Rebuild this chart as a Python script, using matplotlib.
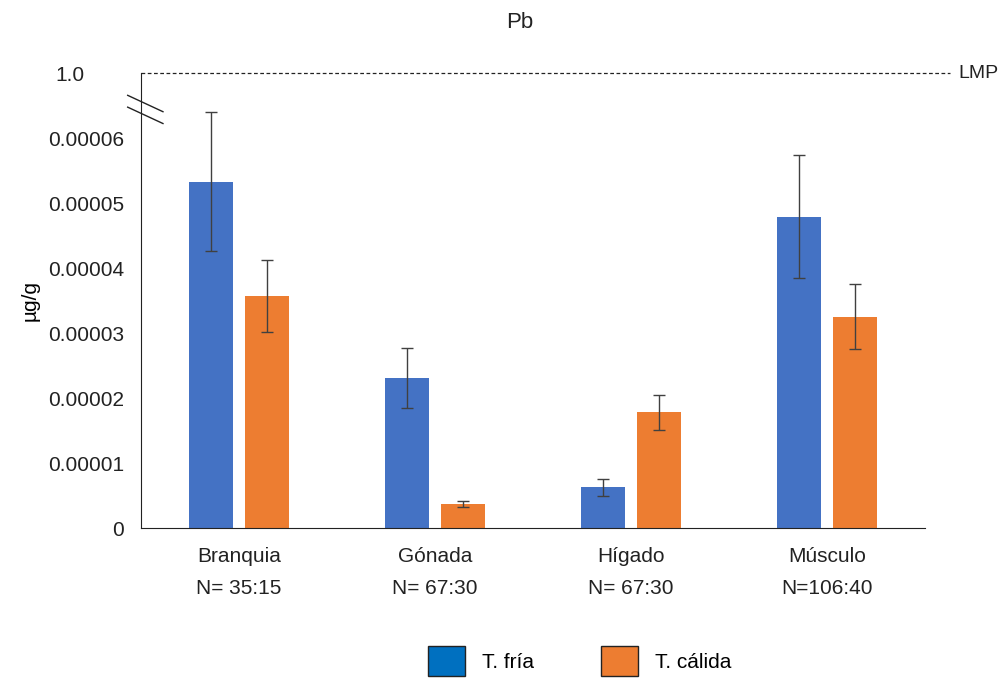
import numpy as np
import matplotlib.pyplot as plt
from matplotlib.lines import Line2D
from matplotlib.patches import Patch

plt.rcParams['font.family'] = ['Liberation Sans', 'DejaVu Sans']

# Concentraciones de Pb por tejido (µg/g)
tejidos = ['Branquia\nN= 35:15', 'Gónada\nN= 67:30', 'Hígado\nN= 67:30', 'Músculo\nN=106:40']
fria = [5.33e-5, 2.31e-5, 0.63e-5, 4.79e-5]
fria_err = [1.07e-5, 0.46e-5, 0.13e-5, 0.95e-5]
calida = [3.57e-5, 0.37e-5, 1.78e-5, 3.25e-5]
calida_err = [0.55e-5, 0.05e-5, 0.27e-5, 0.50e-5]

# Eje con corte: la parte superior representa el LMP (1.0)
yticks = [0, 1e-5, 2e-5, 3e-5, 4e-5, 5e-5, 6e-5, 7e-5]
ytick_labels = ['0', '0.00001', '0.00002', '0.00003', '0.00004', '0.00005', '0.00006', '1.0']
lmp_pos = 7e-5

azul = '#4472C4'
naranja = '#ED7D31'

fig = plt.figure(figsize=(10.08, 6.8), dpi=100)
ax = fig.add_axes([0.1399, 0.2235, 0.7778, 0.6691])

x = np.arange(len(tejidos))
w = 0.224
d = 0.143
err_kw = dict(ecolor='#404040', elinewidth=1, capsize=4, capthick=1)
ax.bar(x - d, fria, w, yerr=fria_err, color=azul, error_kw=err_kw)
ax.bar(x + d, calida, w, yerr=calida_err, color=naranja, error_kw=err_kw)

ax.set_xlim(-0.5, len(tejidos) - 0.5)
ax.set_ylim(0, lmp_pos)
ax.set_yticks(yticks)
ax.set_yticklabels(ytick_labels)
ax.set_xticks(x)
ax.set_xticklabels(tejidos, linespacing=1.85)
ax.tick_params(axis='both', length=0, labelsize=15, colors='#222222')
ax.tick_params(axis='y', pad=12)
ax.tick_params(axis='x', pad=14)
for lbl in ax.get_yticklabels():
    lbl.set_horizontalalignment('right')
# la etiqueta superior queda más a la izquierda
ax.get_yticklabels()[-1].set_x(-0.051)

ax.spines['top'].set_visible(False)
ax.spines['right'].set_visible(False)
ax.spines['left'].set_color('#222222')
ax.spines['bottom'].set_color('#222222')

# Línea del LMP
ax.plot([0, 1.032], [1, 1], transform=ax.transAxes, ls=(0, (3, 2)),
        color='#222222', lw=0.9, clip_on=False)
ax.text(1.042, 1, 'LMP', transform=ax.transAxes, va='center', ha='left',
        fontsize=14, color='#222222')

# Marcas de corte del eje
for y0 in [0.951, 0.925]:
    ax.add_line(Line2D([-0.017, 0.028], [y0, y0 - 0.036], transform=ax.transAxes,
                       color='#222222', lw=1, clip_on=False))

ax.set_ylabel('µg/g', fontsize=15, labelpad=6)
fig.text(0.516, 0.967, 'Pb', ha='center', va='center', fontsize=16, color='#222222')

handles = [Patch(facecolor='#0070C0', edgecolor='#222222', label='T. fría'),
           Patch(facecolor=naranja, edgecolor='#222222', label='T. cálida')]
fig.legend(handles=handles, loc='center', bbox_to_anchor=(0.575, 0.028), ncol=2,
           frameon=False, fontsize=15, handlelength=1.8, handleheight=1.8,
           columnspacing=3.2, handletextpad=0.8)

fig.savefig('out.png', dpi=100)
